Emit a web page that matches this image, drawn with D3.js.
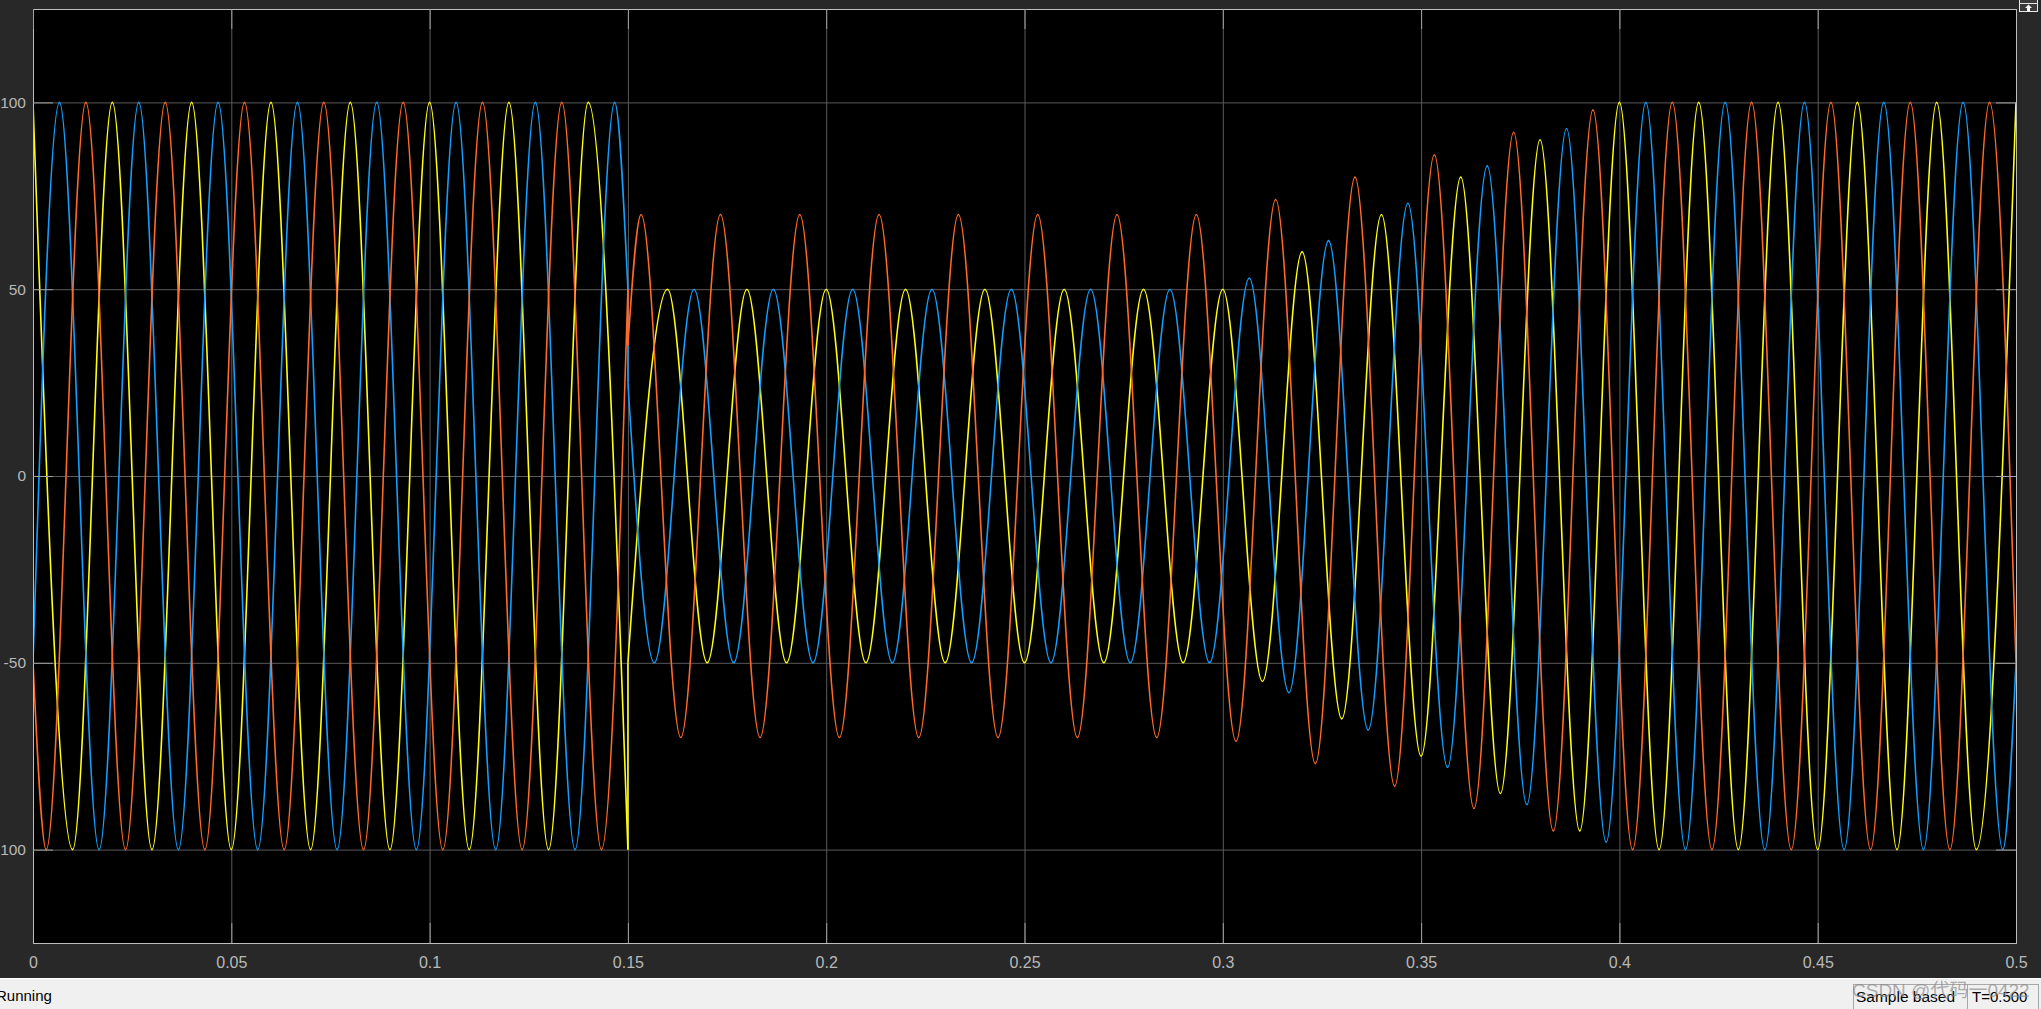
<!DOCTYPE html>
<html>
<head>
<meta charset="utf-8">
<script src="https://cdnjs.cloudflare.com/ajax/libs/d3/7.8.5/d3.min.js"></script>
<style>
  html, body { margin: 0; padding: 0; background: #282828; overflow: hidden; }
  text { font-family: "Liberation Sans", Arial, Helvetica, sans-serif; }
</style>
</head>
<body>
<div id="scope"></div>
<script>
// tick labels
var timeTicks = [0, 0.05, 0.1, 0.15, 0.2, 0.25, 0.3, 0.35, 0.4, 0.45, 0.5]
var valueTicks = [-100, -50, 0, 50, 100]

// the three phases (yellow, blue, orange)
var seriesNames = ["yellow", "blue", "orange"]

// 50 Hz, so a peak and the next trough are 0.01 s apart
var halfCycle = 0.01
var faultTime = 0.15
var endTime = 0.5

// values at the left edge, just before / after the step at 0.15 s, at the right edge
var startValues = [100, -50, -50]
var jumpBefore = [-100, 50, 50]
var jumpAfter = [-50, 25, 35]
var endValues = [100, -50, -50]

// time of the first peak or trough, before and after the step
var firstExtremePre = [0, 0.006667, 0.003333]
var firstExtremePost = [0.15, 0.156667, 0.153333]

// peaks and troughs, one every half cycle
var yellowPre = [100, -100, 100, -100, 100, -100, 100, -100, 100, -100, 100, -100, 100, -100, 100, -100]
var yellowPost = [-50, 50, -50, 50, -50, 50, -50, 50, -50, 50, -50, 50, -50, 50, -50, 50,
  -55, 60, -65, 70, -75, 80, -85, 90, -95,
  100, -100, 100, -100, 100, -100, 100, -100, 100, -100, 100]

var bluePre = [100, -100, 100, -100, 100, -100, 100, -100, 100, -100, 100, -100, 100, -100, 100]
var bluePost = [-50, 50, -50, 50, -50, 50, -50, 50, -50, 50, -50, 50, -50, 50, -50,
  53, -58, 63, -68, 73, -78, 83, -88, 93, -98,
  100, -100, 100, -100, 100, -100, 100, -100, 100, -100]

var orangePre = [-100, 100, -100, 100, -100, 100, -100, 100, -100, 100, -100, 100, -100, 100, -100]
var orangePost = [70, -70, 70, -70, 70, -70, 70, -70, 70, -70, 70, -70, 70, -70, 70,
  -71, 74, -77, 80, -83, 86, -89, 92, -95, 98,
  -100, 100, -100, 100, -100, 100, -100, 100, -100, 100]

var preValues = [yellowPre, bluePre, orangePre]
var postValues = [yellowPost, bluePost, orangePost]

// MATLAB scope line colours
var colors = ["#ffff11", "#139fff", "#ff6929"]

;(function () {

  var W = 2041, H = 1009
  var margin = { top: 9, right: 25, bottom: 66, left: 33 }
  var width = W - margin.left - margin.right,
    height = H - margin.top - margin.bottom

  var root = d3.select("#scope").append("svg")
    .attr("width", W)
    .attr("height", H)
    .style("display", "block")

  root.append("rect")
    .attr("width", W).attr("height", H)
    .attr("fill", "#282828")

  var svg = root.append("g")
    .attr("transform", "translate(" + margin.left + "," + margin.top + ")")

  var xPositionScale = d3.scaleLinear().domain([0, endTime]).range([0, width])
  var yPositionScale = d3.scaleLinear().domain([-125, 125]).range([height, 0])

  svg.append("rect")
    .attr("width", width)
    .attr("height", height)
    .attr("fill", "#000")

  // grid
  svg.append("g")
    .attr("class", "grid")
    .attr("transform", "translate(0," + height + ")")
    .call(d3.axisBottom(xPositionScale).tickValues(timeTicks).tickSize(-height).tickFormat(""))
  svg.append("g")
    .attr("class", "grid")
    .call(d3.axisLeft(yPositionScale).tickValues(valueTicks).tickSize(-width).tickFormat(""))
  svg.selectAll(".grid .domain").remove()
  svg.selectAll(".grid line").attr("stroke", "#5a5a5a").attr("stroke-width", 1)

  // build the point lists: edge value, peaks/troughs, edge value
  function extremes(first, vals) {
    return vals.map(function (v, i) {
      return { t: first + i * halfCycle, v: v }
    })
  }
  function dedupe(pts) {
    return pts.filter(function (p, i) {
      return i === 0 || Math.abs(p.t - pts[i - 1].t) > 1e-6
    })
  }

  var series = seriesNames.map(function (name, i) {
    var pre = [{ t: 0, v: startValues[i] }]
      .concat(extremes(firstExtremePre[i], preValues[i]))
      .concat([{ t: faultTime, v: jumpBefore[i] }])
    var post = [{ t: faultTime, v: jumpAfter[i] }]
      .concat(extremes(firstExtremePost[i], postValues[i]))
      .concat([{ t: endTime, v: endValues[i] }])
    return {
      name: name,
      color: colors[i],
      pre: dedupe(pre),
      jump: [{ t: faultTime, v: jumpBefore[i] }, { t: faultTime, v: jumpAfter[i] }],
      post: dedupe(post)
    }
  })

  svg.append("clipPath").attr("id", "plotClip")
    .append("rect").attr("width", width).attr("height", height)

  var wave = d3.line()
    .x(function (d) { return xPositionScale(d.t) })
    .y(function (d) { return yPositionScale(d.v) })
    .curve(d3.curveMonotoneX)

  var straight = d3.line()
    .x(function (d) { return xPositionScale(d.t) })
    .y(function (d) { return yPositionScale(d.v) })

  var lines = svg.append("g")
    .attr("clip-path", "url(#plotClip)")
    .selectAll(".phase")
    .data(series)
    .enter()
    .append("g")
    .attr("class", "phase")

  lines.append("path")
    .attr("d", function (d) { return wave(d.pre) })
    .attr("fill", "none")
    .attr("stroke", function (d) { return d.color })
    .attr("stroke-width", 1.6)

  lines.append("path")
    .attr("d", function (d) { return straight(d.jump) })
    .attr("fill", "none")
    .attr("stroke", function (d) { return d.color })
    .attr("stroke-width", 1.6)

  lines.append("path")
    .attr("d", function (d) { return wave(d.post) })
    .attr("fill", "none")
    .attr("stroke", function (d) { return d.color })
    .attr("stroke-width", 1.6)

  // axes, ticks point into the plot like matlab
  var xAxis = d3.axisBottom(xPositionScale)
    .tickValues(timeTicks)
    .tickSize(-20)
    .tickPadding(14)
    .tickFormat(function (d) { return String(d) })
  svg.append("g")
    .attr("class", "axis x-axis")
    .attr("transform", "translate(0," + height + ")")
    .call(xAxis)

  var yAxis = d3.axisLeft(yPositionScale)
    .tickValues(valueTicks)
    .tickSize(-20)
    .tickPadding(7)
    .tickFormat(function (d) { return String(d) })
  svg.append("g")
    .attr("class", "axis y-axis")
    .call(yAxis)

  svg.append("g")
    .attr("class", "axis")
    .call(d3.axisTop(xPositionScale).tickValues(timeTicks).tickSize(-20).tickFormat(""))
  svg.append("g")
    .attr("class", "axis")
    .attr("transform", "translate(" + width + ",0)")
    .call(d3.axisRight(yPositionScale).tickValues(valueTicks).tickSize(-20).tickFormat(""))

  svg.selectAll(".axis .domain").attr("stroke", "#bdbdbd")
  svg.selectAll(".axis line").attr("stroke", "#a0a0a0")
  svg.selectAll(".axis text")
    .attr("fill", "#b8b8b8")
    .style("font-size", "16px")
  svg.selectAll(".y-axis text").style("font-size", "15.5px")

  // status bar
  var bar = root.append("g").attr("transform", "translate(0,978)")
  bar.append("rect").attr("width", W).attr("height", 31).attr("fill", "#f0f0f0")
  bar.append("line").attr("x1", 0).attr("x2", W).attr("y1", 0.5).attr("y2", 0.5)
    .attr("stroke", "#ffffff")
  bar.append("text")
    .attr("x", -4).attr("y", 23)
    .attr("fill", "#000")
    .style("font-size", "15px")
    .text("Running")

  bar.append("rect")
    .attr("x", 1853.5).attr("y", 6.5).attr("width", 114).attr("height", 30)
    .attr("fill", "none").attr("stroke", "#a8a8a8")
  bar.append("rect")
    .attr("x", 1967.5).attr("y", 6.5).attr("width", 71).attr("height", 30)
    .attr("fill", "none").attr("stroke", "#a8a8a8")
  bar.append("text")
    .attr("x", 1856).attr("y", 24)
    .attr("fill", "#000")
    .style("font-size", "15.5px")
    .text("Sample based")
  bar.append("text")
    .attr("x", 1972).attr("y", 24)
    .attr("fill", "#000")
    .style("font-size", "15px")
    .text("T=0.500")

  // watermark
  bar.append("text")
    .attr("x", 1852).attr("y", 19)
    .attr("fill", "#8c8c8c")
    .attr("fill-opacity", 0.7)
    .style("font-family", "'Liberation Sans', 'Noto Sans CJK SC', sans-serif")
    .style("font-size", "19px")
    .text("CSDN @代码一0422")

  // little undock button top right
  var btn = root.append("g").attr("transform", "translate(2019,0)")
  btn.append("rect")
    .attr("x", 0.5).attr("y", -1).attr("width", 18).attr("height", 12.5)
    .attr("fill", "#3a3a3a").attr("stroke", "#e6e6e6")
  btn.append("line").attr("x1", 1).attr("x2", 18).attr("y1", 3.5).attr("y2", 3.5)
    .attr("stroke", "#e6e6e6")
  btn.append("path")
    .attr("d", "M9.5,4.5 L13,8 L11,8 L11,11 L8,11 L8,8 L6,8 Z")
    .attr("fill", "#ffffff")

})()
</script>
</body>
</html>
